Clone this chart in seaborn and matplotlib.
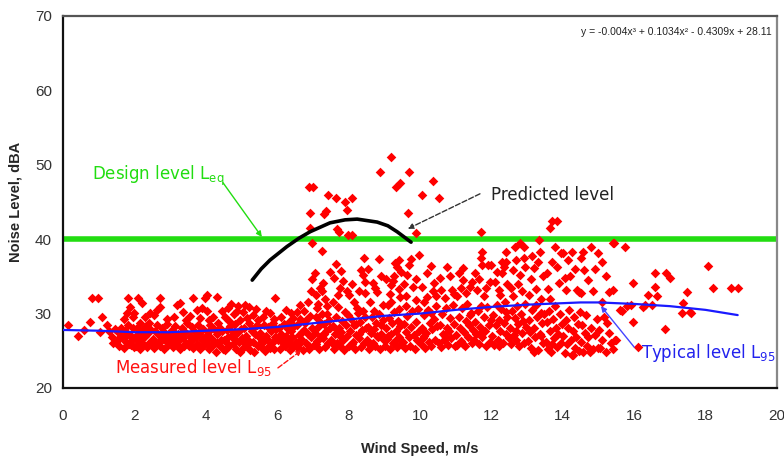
import matplotlib
matplotlib.use("Agg")
import matplotlib.pyplot as plt
from matplotlib.ticker import MultipleLocator
import seaborn as sns
import pandas as pd

# ---------------- data ----------------
pts_low = [(0.14,28.5),(0.42,27.0),(0.6,27.8),(0.76,28.9),(0.8,32.1),(0.97,32.1),(1.08,29.5),(1.04,27.5),
           (1.23,28.5),(1.3,27.6),(1.38,26.8),(1.45,27.9),(1.4,26.0)]

pts_band_a = [  # 1.5 - 4.0 m/s
 (1.52,26.3),(1.55,27.5),(1.58,25.7),(1.62,28.1),(1.66,26.9),(1.7,25.4),(1.73,27.7),(1.77,26.2),(1.81,28.4),
 (1.85,25.9),(1.88,27.1),(1.92,26.5),(1.95,28.0),(1.98,25.5),(1.6,26.8),(1.75,27.0),(1.9,25.8),
 (1.82,32.1),(1.88,30.9),(1.79,30.1),(1.7,29.3),(1.95,29.6),
 (2.02,26.9),(2.05,25.6),(2.08,28.0),(2.12,27.2),(2.15,25.3),(2.18,26.4),(2.22,27.8),(2.25,25.9),(2.28,26.8),
 (2.32,28.3),(2.35,25.5),(2.38,27.4),(2.42,26.1),(2.45,27.9),(2.48,25.8),(2.1,26.3),(2.3,27.0),(2.4,28.8),
 (2.0,30.1),(2.1,32.1),(2.2,31.4),(2.16,28.7),(2.44,30.1),(2.3,29.5),
 (2.52,26.6),(2.55,25.4),(2.58,27.6),(2.62,28.4),(2.65,26.0),(2.68,27.1),(2.72,25.6),(2.75,26.9),(2.78,28.0),
 (2.82,25.3),(2.85,27.4),(2.88,26.3),(2.92,28.6),(2.95,25.8),(2.98,27.0),(2.6,25.9),(2.8,26.6),
 (2.63,30.5),(2.72,30.9),(2.72,32.1),(2.9,29.3),(2.55,29.8),
 (3.02,26.2),(3.05,27.8),(3.08,25.5),(3.12,26.9),(3.15,28.3),(3.18,25.9),(3.22,27.3),(3.25,26.4),(3.28,25.2),
 (3.32,28.0),(3.35,26.7),(3.38,25.6),(3.42,27.5),(3.45,26.1),(3.48,28.7),(3.1,26.5),(3.3,27.0),(3.4,25.8),
 (3.2,31.2),(3.28,31.4),(3.1,29.6),(3.35,30.2),(3.45,29.2),
 (3.52,25.7),(3.55,27.0),(3.58,26.3),(3.62,28.2),(3.65,25.4),(3.68,27.6),(3.72,26.8),(3.75,25.9),(3.78,28.5),
 (3.82,27.2),(3.85,25.3),(3.88,26.5),(3.92,27.9),(3.95,25.8),(3.98,26.9),(3.6,26.6),(3.8,25.6),
 (3.64,32.1),(3.75,30.5),(3.98,32.1),(3.55,29.7),(3.85,29.4),(3.9,30.8),
]

pts_band_b = [  # 4.0 - 6.5 m/s
 (4.02,26.0),(4.05,27.5),(4.08,25.2),(4.12,28.4),(4.15,26.7),(4.18,25.6),(4.22,27.9),(4.25,26.2),(4.28,24.9),
 (4.32,27.2),(4.35,28.8),(4.38,25.8),(4.42,26.5),(4.45,27.7),(4.48,25.3),(4.1,26.9),(4.3,26.0),(4.4,28.1),
 (4.03,32.5),(4.03,30.3),(4.31,32.2),(4.2,29.6),(4.45,30.4),(4.1,29.2),
 (4.52,26.4),(4.55,25.1),(4.58,27.8),(4.62,26.9),(4.65,25.6),(4.68,28.3),(4.72,27.1),(4.75,25.9),(4.78,26.6),
 (4.82,28.6),(4.85,25.3),(4.88,27.4),(4.92,26.2),(4.95,24.9),(4.98,27.9),(4.6,26.0),(4.8,27.5),
 (4.55,29.5),(4.62,30.8),(4.7,31.3),(4.78,29.9),(4.86,30.4),(4.95,29.2),(4.66,29.0),(4.9,31.0),
 (5.02,26.7),(5.05,25.4),(5.08,28.1),(5.12,27.0),(5.15,25.8),(5.18,26.5),(5.22,28.7),(5.25,25.1),(5.28,27.6),
 (5.32,26.2),(5.35,24.9),(5.38,27.3),(5.42,28.4),(5.45,25.7),(5.48,26.8),(5.1,26.1),(5.3,27.9),
 (5.05,30.2),(5.15,29.4),(5.2,30.9),(5.32,29.8),(5.4,30.6),(5.45,29.1),(5.1,31.2),
 (5.52,27.4),(5.55,25.5),(5.58,26.3),(5.62,28.5),(5.65,25.0),(5.68,27.0),(5.72,26.6),(5.75,28.2),(5.78,25.7),
 (5.82,27.7),(5.85,26.0),(5.88,28.8),(5.92,25.3),(5.95,26.9),(5.98,27.9),(5.6,26.2),(5.8,25.4),
 (5.8,30.1),(5.94,32.1),(5.6,29.5),(5.7,30.4),(5.9,29.3),
 (6.02,26.5),(6.05,28.0),(6.08,25.2),(6.12,27.3),(6.15,26.0),(6.18,28.6),(6.22,25.6),(6.25,27.0),(6.28,26.4),
 (6.32,28.9),(6.35,25.1),(6.38,27.6),(6.42,26.8),(6.45,25.5),(6.48,28.3),(6.1,26.8),(6.3,27.9),(6.4,25.9),
 (6.4,30.1),(6.1,29.6),(6.25,30.5),(6.45,29.4),
]

pts_band_c = [  # 6.5 - 10.0 m/s
 (6.52,26.2),(6.55,28.4),(6.58,25.4),(6.62,27.1),(6.65,29.3),(6.68,26.6),(6.72,25.1),(6.75,27.8),(6.78,28.8),
 (6.82,26.0),(6.85,27.3),(6.88,25.6),(6.92,29.7),(6.95,26.9),(6.98,28.1),(6.6,25.9),(6.7,27.5),(6.8,29.1),(6.9,25.3),
 (6.64,31.2),(6.86,31.6),(6.75,30.4),(6.95,33.0),(6.97,34.7),(6.55,30.2),
 (7.02,25.8),(7.05,27.4),(7.08,29.5),(7.12,26.3),(7.15,28.2),(7.18,25.2),(7.22,27.0),(7.25,29.9),(7.28,26.7),
 (7.32,28.6),(7.35,25.5),(7.38,27.7),(7.42,26.1),(7.45,29.2),(7.48,28.0),(7.1,25.9),(7.3,27.3),(7.4,30.0),(7.2,28.9),
 (7.1,32.5),(7.2,33.4),(7.28,34.1),(7.05,35.5),(7.15,31.3),(7.35,32.0),(7.25,33.0),(7.4,31.0),(7.12,30.7),(7.48,35.6),
 (7.52,26.5),(7.55,28.3),(7.58,25.3),(7.62,27.2),(7.65,29.6),(7.68,26.0),(7.72,28.0),(7.75,25.7),(7.78,27.5),
 (7.82,29.0),(7.85,26.4),(7.88,25.1),(7.92,28.5),(7.95,27.0),(7.98,29.8),(7.6,25.8),(7.7,27.8),(7.8,26.9),(7.9,30.2),
 (7.7,32.5),(7.76,33.4),(7.6,34.8),(7.65,36.6),(7.85,34.4),(7.55,31.5),(7.95,33.0),(7.8,35.7),(7.7,30.9),
 (8.02,25.6),(8.05,27.6),(8.08,29.3),(8.12,26.2),(8.15,28.4),(8.18,25.2),(8.22,27.1),(8.25,30.1),(8.28,26.7),
 (8.32,28.9),(8.35,25.5),(8.38,27.8),(8.42,26.0),(8.45,29.6),(8.48,28.1),(8.1,25.9),(8.3,27.3),(8.4,30.3),(8.2,28.6),
 (8.0,32.5),(8.24,30.8),(8.46,32.8),(8.46,34.3),(8.43,37.5),(8.4,35.2),(8.1,34.0),(8.3,33.0),(8.15,31.5),(8.35,35.8),
 (8.52,26.4),(8.55,28.2),(8.58,25.3),(8.62,27.4),(8.65,29.5),(8.68,26.1),(8.72,27.9),(8.75,25.6),(8.78,28.7),
 (8.82,26.8),(8.85,30.0),(8.88,25.2),(8.92,27.2),(8.95,29.1),(8.98,26.5),(8.6,25.8),(8.7,30.4),(8.8,27.0),(8.9,28.4),
 (8.68,34.1),(8.8,32.9),(8.6,31.6),(8.75,33.5),(8.9,35.0),(8.95,31.2),(8.55,36.0),(8.85,37.3),
 (9.02,25.7),(9.05,28.0),(9.08,26.6),(9.12,29.4),(9.15,25.3),(9.18,27.3),(9.22,28.8),(9.25,26.1),(9.28,30.2),
 (9.32,27.6),(9.35,25.5),(9.38,29.0),(9.42,26.9),(9.45,28.3),(9.48,25.9),(9.1,27.0),(9.3,26.3),(9.4,30.6),
 (9.2,31.6),(9.45,32.2),(9.2,33.8),(9.28,35.0),(9.35,36.2),(9.42,37.2),(9.25,34.4),(9.4,33.3),(9.3,36.8),
 (9.48,35.6),(9.15,32.7),(9.05,34.6),(9.1,31.1),
 (9.52,26.2),(9.55,28.6),(9.58,25.4),(9.62,27.5),(9.65,29.7),(9.68,26.8),(9.72,25.7),(9.75,28.2),(9.78,30.3),
 (9.82,27.1),(9.85,25.3),(9.88,28.9),(9.92,26.4),(9.95,30.6),(9.98,27.7),(9.6,31.0),
 (9.7,36.5),(9.9,31.8),(9.55,34.0),(9.65,35.2),(9.8,33.6),(9.6,32.4),(9.9,34.6),(9.75,37.4),(9.98,37.9),
]

pts_band_d = [  # 10.0 - 13.0 m/s
 (10.02,25.9),(10.05,28.1),(10.08,26.7),(10.12,29.8),(10.15,25.4),(10.18,27.4),(10.22,30.5),(10.25,26.2),
 (10.28,28.7),(10.32,25.7),(10.35,27.9),(10.38,29.3),(10.42,26.5),(10.45,31.0),(10.48,28.3),(10.1,27.0),(10.3,30.1),
 (10.2,32.2),(10.2,35.5),(10.4,34.1),(10.36,33.0),(10.05,33.6),(10.3,36.4),(10.1,31.5),(10.45,32.4),
 (10.52,26.0),(10.55,28.4),(10.58,25.5),(10.62,29.9),(10.65,27.2),(10.68,26.4),(10.72,30.8),(10.75,28.0),
 (10.78,25.8),(10.82,27.6),(10.85,29.4),(10.88,26.7),(10.92,31.2),(10.95,28.6),(10.98,25.6),(10.7,27.0),
 (10.6,33.2),(10.76,36.3),(10.9,33.2),(10.55,34.8),(10.7,32.1),(10.85,35.0),(10.95,32.6),
 (11.02,27.1),(11.05,25.8),(11.08,29.5),(11.12,28.0),(11.15,26.3),(11.18,30.7),(11.22,27.5),(11.25,25.6),
 (11.28,29.0),(11.32,31.3),(11.35,26.8),(11.38,28.4),(11.42,30.1),(11.45,26.0),(11.48,27.8),(11.2,25.9),(11.4,29.8),
 (11.1,35.4),(11.2,36.1),(11.2,34.5),(11.4,33.6),(11.05,32.3),(11.3,32.8),(11.45,34.2),(11.15,33.5),
 (11.52,26.4),(11.55,28.9),(11.58,27.2),(11.62,30.4),(11.65,25.9),(11.68,28.2),(11.72,31.0),(11.75,26.9),
 (11.78,29.6),(11.82,27.7),(11.85,25.7),(11.88,30.9),(11.92,28.5),(11.95,26.2),(11.98,29.2),(11.7,27.5),
 (11.54,35.4),(11.6,33.2),(11.74,38.3),(11.74,36.5),(11.9,36.5),(11.96,34.2),(11.7,37.5),(11.8,32.3),
 (11.65,34.6),(11.85,33.4),
 (12.02,27.0),(12.05,29.8),(12.08,25.8),(12.12,28.4),(12.15,31.2),(12.18,26.5),(12.22,29.1),(12.25,27.6),
 (12.28,30.6),(12.32,26.1),(12.35,28.8),(12.38,31.5),(12.42,27.3),(12.45,29.5),(12.48,26.7),(12.2,25.6),(12.4,30.2),
 (12.0,36.5),(12.2,33.2),(12.3,35.4),(12.3,37.0),(12.4,38.3),(12.4,37.0),(12.1,34.3),(12.25,32.5),(12.45,34.0),
 (12.15,35.6),(12.35,36.2),
 (12.52,28.0),(12.55,25.9),(12.58,30.3),(12.62,27.1),(12.65,29.4),(12.68,26.4),(12.72,31.0),(12.75,28.6),
 (12.78,25.6),(12.82,30.0),(12.85,27.4),(12.88,29.0),(12.92,26.0),(12.95,31.3),(12.98,28.2),(12.7,27.7),
 (12.65,39.0),(12.6,35.9),(12.8,35.2),(12.9,39.0),(12.9,37.5),(12.55,33.5),(12.75,34.0),(12.95,36.2),
 (12.6,32.4),(12.85,33.0),(12.7,37.2),
]

pts_band_e = [  # 13.0 - 15.5 m/s
 (13.02,26.3),(13.05,29.1),(13.08,27.5),(13.12,25.4),(13.15,30.5),(13.18,28.0),(13.22,26.8),(13.25,31.1),
 (13.28,29.6),(13.32,25.1),(13.35,27.3),(13.38,30.1),(13.42,28.7),(13.45,26.0),(13.48,29.9),(13.2,24.8),(13.4,27.0),
 (13.2,36.1),(13.3,37.0),(13.36,38.3),(13.1,34.6),(13.25,33.3),(13.45,35.0),(13.05,32.5),(13.4,32.0),(13.15,37.8),
 (13.52,26.2),(13.55,28.9),(13.58,25.2),(13.62,30.4),(13.65,27.6),(13.68,24.8),(13.72,29.3),(13.75,26.7),
 (13.78,31.0),(13.82,28.1),(13.85,25.5),(13.88,27.2),(13.92,30.0),(13.95,26.0),(13.98,28.6),(13.7,25.9),
 (13.56,35.4),(13.7,37.0),(13.78,39.0),(13.9,34.1),(13.6,33.3),(13.85,36.3),(13.95,38.1),(13.65,32.0),
 (14.02,27.0),(14.05,24.7),(14.08,29.2),(14.12,25.9),(14.15,28.1),(14.18,30.5),(14.22,26.5),(14.25,24.5),
 (14.28,27.7),(14.32,29.6),(14.35,25.4),(14.38,26.9),(14.42,28.6),(14.45,25.0),(14.48,30.2),(14.3,24.4),
 (14.0,38.1),(14.15,37.2),(14.26,38.3),(14.1,33.2),(14.4,33.2),(14.45,32.9),(14.5,37.5),(14.2,35.0),
 (14.35,36.0),(14.05,34.8),
 (14.52,26.2),(14.55,28.5),(14.58,24.8),(14.62,27.4),(14.65,29.8),(14.68,25.6),(14.72,26.8),(14.76,24.8),
 (14.8,28.0),(14.85,25.3),(14.9,27.1),(14.95,29.3),(14.98,25.4),
 (14.57,38.3),(14.8,39.0),(14.5,32.8),(14.7,34.5),(14.9,36.0),(14.6,35.8),(14.85,33.0),
 (15.02,27.8),(15.05,25.4),(15.1,26.5),(15.2,24.8),(15.25,28.7),(15.3,27.4),(15.35,26.0),(15.15,29.5),
 (15.45,26.5),(15.4,25.2),
 (15.0,38.1),(15.1,37.0),(15.3,32.9),(15.4,33.2),(15.43,39.5),(15.2,35.0),(15.1,31.6),
]

pts_high_wind = [(15.5,26.5),(15.6,30.5),(15.66,30.4),(15.74,39.0),(15.8,31.0),(15.9,31.2),(15.97,34.1),
 (15.97,28.9),(16.1,25.5),(16.25,30.9),(16.3,31.2),(16.4,32.5),(16.5,31.2),(16.58,35.5),(16.58,33.6),
 (16.64,32.4),(16.86,27.9),(16.9,35.5),(17.0,34.8),(17.33,30.1),(17.37,31.4),(17.48,32.9),(17.57,30.2),
 (17.6,30.1),(18.07,36.4),(18.2,33.5),(18.7,33.5),(18.9,33.5)]

pts_outliers = [(6.89,47.0),(7.0,47.0),(7.42,45.9),(7.65,45.5),(7.9,45.0),(8.1,45.5),(7.37,43.8),(7.3,43.4),
 (7.96,43.9),(6.92,43.5),(6.92,41.5),(7.67,41.4),(7.73,41.0),(7.98,40.6),(8.1,40.6),(6.97,39.5),(7.25,38.4),
 (9.19,51.0),(8.88,49.0),(9.7,49.0),(9.44,47.6),(9.33,47.0),(9.66,43.5),(9.9,40.8),(10.36,47.8),(10.06,46.0),
 (10.53,45.5),(13.7,42.4),(13.84,42.4),(13.64,41.5),(11.7,41.0),(12.8,39.5),(13.33,39.9),(15.4,39.5)]

typical_x = [0, 1, 2, 3, 4, 5, 6, 7, 8, 9, 10, 11, 12, 13, 14, 14.5, 15, 16, 17, 18, 18.9]
typical_y = [27.8, 27.7, 27.5, 27.5, 27.7, 27.9, 28.2, 28.7, 29.2, 29.7, 30.0, 30.5, 30.9, 31.2, 31.4,
             31.5, 31.5, 31.3, 31.0, 30.5, 29.8]

predicted_x = [5.3, 5.55, 5.8, 6.27, 6.6, 6.92, 7.48, 7.9, 8.24, 8.8, 9.1, 9.36, 9.75]
predicted_y = [34.5, 36.0, 37.2, 39.0, 40.1, 41.0, 42.2, 42.6, 42.7, 42.3, 41.8, 41.0, 39.6]

design_x = [0, 20]
design_y = [40, 40]

equation_text = "y = -0.004x³ + 0.1034x² - 0.4309x + 28.11"

# ---------------- build table ----------------
all_pts = pts_low + pts_band_a + pts_band_b + pts_band_c + pts_band_d + pts_band_e + pts_high_wind + pts_outliers
measured = pd.DataFrame(all_pts, columns=["wind", "noise"])
typical = pd.DataFrame({"wind": typical_x, "noise": typical_y})
predicted = pd.DataFrame({"wind": predicted_x, "noise": predicted_y})
design = pd.DataFrame({"wind": design_x, "noise": design_y})

sns.set_style("white")
plt.rcParams["font.family"] = ["Liberation Sans", "DejaVu Sans"]
plt.rcParams["mathtext.default"] = "regular"

fig = plt.figure(figsize=(7.84, 4.57), dpi=100)
ax = fig.add_axes([0.0804, 0.151, 0.9106, 0.814])

ANN_FONT = ["DejaVu Sans"]

sns.lineplot(data=design, x="wind", y="noise", ax=ax, color="#22dd11", linewidth=4, zorder=1)
sns.scatterplot(data=measured, x="wind", y="noise", ax=ax, color="#ff0000", marker="D", s=24,
                linewidth=0, zorder=2)
sns.lineplot(data=typical, x="wind", y="noise", ax=ax, color="#1a1aff", linewidth=1.6, zorder=3)
sns.lineplot(data=predicted, x="wind", y="noise", ax=ax, color="black", linewidth=2.6, zorder=4, sort=False)

ax.set_xlim(0, 20)
ax.set_ylim(20, 70)
ax.xaxis.set_major_locator(MultipleLocator(2))
ax.xaxis.set_minor_locator(MultipleLocator(1))
ax.yaxis.set_major_locator(MultipleLocator(10))
ax.yaxis.set_minor_locator(MultipleLocator(2))
ax.tick_params(axis="both", which="both", direction="in", colors="#222222", labelcolor="#333333")
ax.tick_params(axis="both", which="major", length=5, width=1.2, labelsize=11, pad=8)
ax.tick_params(axis="both", which="minor", length=3, width=1.0)
ax.tick_params(axis="x", which="major", pad=15)

for side, col in [("left", "#111111"), ("bottom", "#111111"), ("top", "#555555"), ("right", "#888888")]:
    ax.spines[side].set_visible(True)
    ax.spines[side].set_color(col)
    ax.spines[side].set_linewidth(1.6)

ax.set_xlabel("Wind Speed, m/s", fontsize=10.5, fontweight="bold", labelpad=14)
ax.set_ylabel("Noise Level, dBA", fontsize=10.5, fontweight="bold", labelpad=9)

ax.text(0.993, 0.957, equation_text, transform=ax.transAxes, ha="right", va="center",
        fontsize=7.5, color="#222222")

# annotation texts
ax.text(0.81, 48.5, "Design level L$_{eq}$", fontsize=12, color="#22dd11", family=ANN_FONT,
        va="center", ha="left", zorder=6)
ax.text(12.0, 45.9, "Predicted level", fontsize=12, color="#222222", family=ANN_FONT,
        va="center", ha="left", zorder=6)
ax.text(1.46, 22.8, "Measured level L$_{95}$", fontsize=12, color="#ff1111", family=ANN_FONT,
        va="center", ha="left", zorder=6)
ax.text(16.2, 24.7, "Typical level L$_{95}$", fontsize=12, color="#2222ee", family=ANN_FONT,
        va="center", ha="left", zorder=6)

# annotation arrows
ax.annotate("", xy=(5.57, 40.3), xytext=(4.48, 47.6),
            arrowprops=dict(arrowstyle="-|>", color="#22dd11", lw=1, shrinkA=0, shrinkB=0,
                            mutation_scale=8), zorder=6)
ax.annotate("", xy=(9.66, 41.4), xytext=(11.68, 46.1),
            arrowprops=dict(arrowstyle="-|>", color="#333333", lw=1, ls="--", shrinkA=0, shrinkB=0,
                            mutation_scale=8), zorder=6)
ax.annotate("", xy=(6.69, 25.1), xytext=(6.02, 22.7),
            arrowprops=dict(arrowstyle="-|>", color="#ff1111", lw=1, ls="--", shrinkA=0, shrinkB=0,
                            mutation_scale=8), zorder=6)
ax.annotate("", xy=(15.07, 31.0), xytext=(16.0, 25.5),
            arrowprops=dict(arrowstyle="-|>", color="#4444ff", lw=1, shrinkA=0, shrinkB=0,
                            mutation_scale=8), zorder=6)

fig.savefig("out.png", dpi=100)
